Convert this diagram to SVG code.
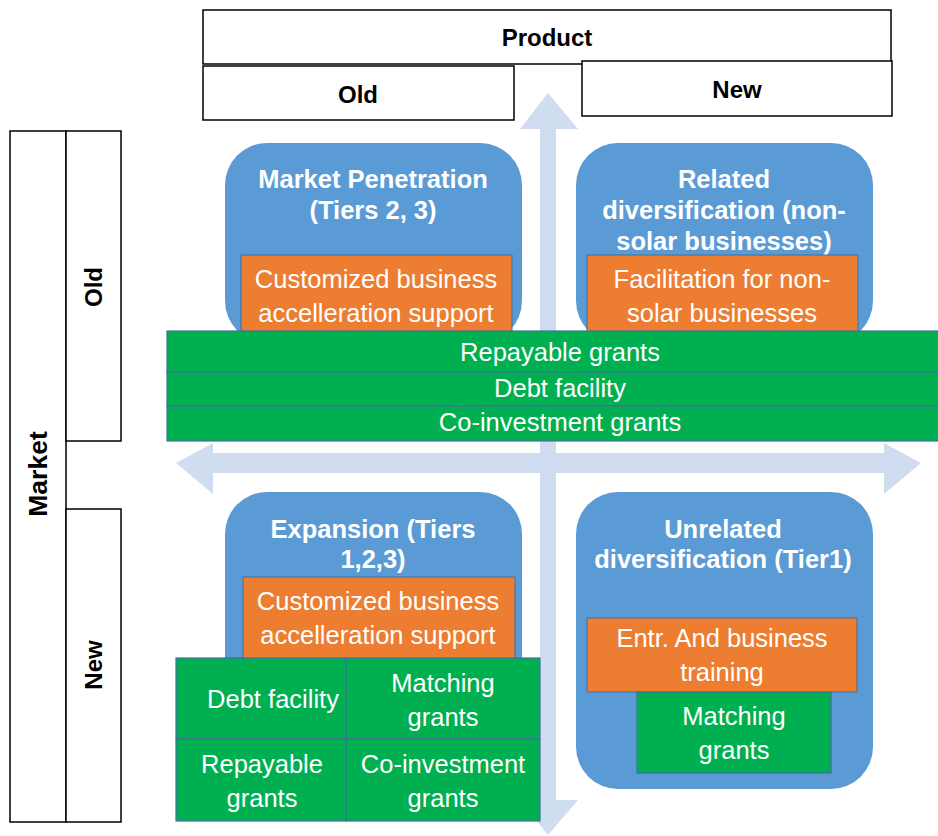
<svg xmlns="http://www.w3.org/2000/svg" width="938" height="836" viewBox="0 0 938 836">
  <style>
    text { font-family: "Liberation Sans", Arial, sans-serif; text-anchor: middle; }
    .hdr { fill: #fff; stroke: #000; stroke-width: 1.5; }
    .hdrt { font-size: 24px; font-weight: bold; fill: #000; }
    .big { font-size: 26.5px; }
    .quad { fill: #5B9BD5; }
    .qt { font-size: 25.5px; font-weight: bold; fill: #fff; }
    .org { fill: #ED7D31; stroke: #41719C; stroke-width: 1; }
    .grn { fill: #00B050; stroke: #41719C; stroke-width: 1.2; }
    .bt { font-size: 25.5px; fill: #fff; }
    .axis { fill: #D0DCEF; }
  </style>

  <rect width="938" height="836" fill="#fff"/>

  <!-- axes: double-headed arrows -->
  <g id="axes">
    <polygon class="axis" points="548,93 578,129 556,129 556,800 578,800 548,835 520,800 540,800 540,129 520,129"/>
    <polygon class="axis" points="176,463 213,443 213,453 884,453 884,443 921,463 884,494 884,473 213,473 213,494"/>
  </g>

  <!-- product header -->
  <g id="product">
    <rect class="hdr" x="203" y="10" width="688" height="54"/>
    <text class="hdrt" x="547" y="46">Product</text>
  </g>
  <g id="product-old">
    <rect class="hdr" x="203" y="66" width="311" height="54" stroke-width="2"/>
    <text class="hdrt" x="358" y="103">Old</text>
  </g>
  <g id="product-new">
    <rect class="hdr" x="582" y="61" width="310" height="55"/>
    <text class="hdrt" x="737" y="98">New</text>
  </g>

  <!-- market header -->
  <g id="market">
    <rect class="hdr" x="10" y="131" width="56" height="691"/>
    <text class="hdrt big" transform="translate(47,474) rotate(-90)">Market</text>
  </g>
  <g id="market-old">
    <rect class="hdr" x="66" y="131" width="55" height="310"/>
    <text class="hdrt" transform="translate(102,287) rotate(-90)">Old</text>
  </g>
  <g id="market-new">
    <rect class="hdr" x="66" y="509" width="55" height="313"/>
    <text class="hdrt" transform="translate(102,665) rotate(-90)">New</text>
  </g>

  <!-- quadrant: old product / old market -->
  <g id="market-penetration">
    <rect class="quad" x="225" y="143" width="297" height="200" rx="42"/>
    <text class="qt" x="373" y="188">Market Penetration</text>
    <text class="qt" x="373" y="219">(Tiers 2, 3)</text>
  </g>
  <g id="mp-support">
    <rect class="org" x="241" y="255" width="271" height="80"/>
    <text class="bt" x="376" y="288">Customized business</text>
    <text class="bt" x="376" y="322">accelleration support</text>
  </g>

  <!-- quadrant: new product / old market -->
  <g id="related-diversification">
    <rect class="quad" x="576" y="143" width="297" height="200" rx="42"/>
    <text class="qt" x="724" y="188">Related</text>
    <text class="qt" x="724" y="219">diversification (non-</text>
    <text class="qt" x="724" y="250">solar businesses)</text>
  </g>
  <g id="rd-facilitation">
    <rect class="org" x="587" y="255" width="271" height="80"/>
    <text class="bt" x="722" y="288">Facilitation for non-</text>
    <text class="bt" x="722" y="322">solar businesses</text>
  </g>

  <!-- shared financing band across old market -->
  <g id="old-market-financing">
    <rect class="grn" x="167" y="331" width="780" height="41"/>
    <rect class="grn" x="167" y="372" width="780" height="34"/>
    <rect class="grn" x="167" y="406" width="780" height="35"/>
    <text class="bt" x="560" y="361">Repayable grants</text>
    <text class="bt" x="560" y="397">Debt facility</text>
    <text class="bt" x="560" y="431">Co-investment grants</text>
  </g>

  <!-- quadrant: old product / new market -->
  <g id="expansion">
    <rect class="quad" x="225" y="492" width="297" height="300" rx="42"/>
    <text class="qt" x="373" y="538">Expansion (Tiers</text>
    <text class="qt" x="373" y="568">1,2,3)</text>
  </g>
  <g id="exp-support">
    <rect class="org" x="243" y="577" width="272" height="82"/>
    <text class="bt" x="378" y="610">Customized business</text>
    <text class="bt" x="378" y="644">accelleration support</text>
  </g>
  <g id="exp-financing">
    <rect class="grn" x="176" y="658" width="170" height="81"/>
    <rect class="grn" x="346" y="658" width="194" height="81"/>
    <rect class="grn" x="176" y="739" width="170" height="82"/>
    <rect class="grn" x="346" y="739" width="194" height="82"/>
    <text class="bt" x="273" y="708">Debt facility</text>
    <text class="bt" x="443" y="692">Matching</text>
    <text class="bt" x="443" y="726">grants</text>
    <text class="bt" x="262" y="773">Repayable</text>
    <text class="bt" x="262" y="807">grants</text>
    <text class="bt" x="443" y="773">Co-investment</text>
    <text class="bt" x="443" y="807">grants</text>
  </g>

  <!-- quadrant: new product / new market -->
  <g id="unrelated-diversification">
    <rect class="quad" x="576" y="492" width="297" height="297" rx="42"/>
    <text class="qt" x="723" y="538">Unrelated</text>
    <text class="qt" x="723" y="568">diversification (Tier1)</text>
  </g>
  <g id="ud-training">
    <rect class="org" x="587" y="618" width="270" height="74"/>
    <text class="bt" x="722" y="647">Entr. And business</text>
    <text class="bt" x="722" y="681">training</text>
  </g>
  <g id="ud-matching">
    <rect class="grn" x="637" y="692" width="194" height="81"/>
    <text class="bt" x="734" y="725">Matching</text>
    <text class="bt" x="734" y="759">grants</text>
  </g>
</svg>
